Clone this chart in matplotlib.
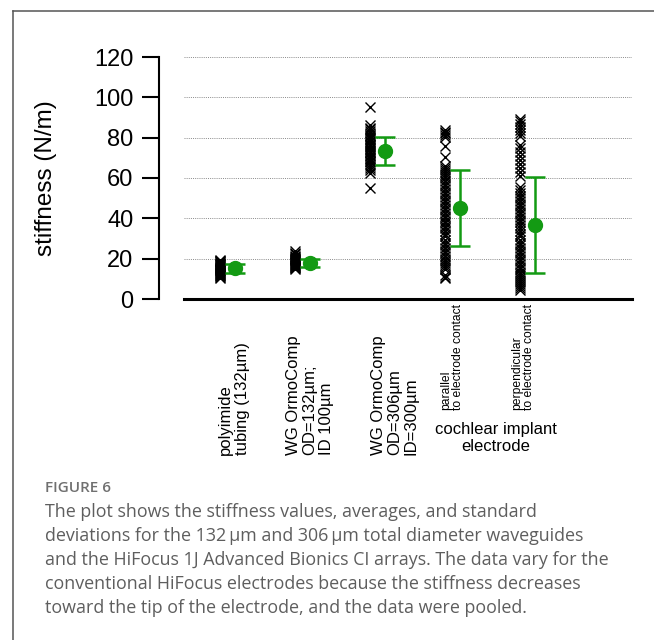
import numpy as np
import matplotlib
matplotlib.use("Agg")
import matplotlib.pyplot as plt
from matplotlib.lines import Line2D

# stiffness measurements (N/m) for each sample group
polyimide = [10.5, 11.0, 11.4, 11.8, 12.1, 12.5, 12.8, 13.1, 13.4, 13.7, 14.0, 14.2,
             14.5, 14.8, 15.0, 15.3, 15.6, 15.9, 16.1, 16.4, 16.7, 17.0, 17.3, 17.6,
             17.9, 18.2, 18.6, 19.0, 19.5]
wg_132 = [15.0, 15.4, 15.8, 16.1, 16.5, 16.8, 17.1, 17.4, 17.7, 18.0, 18.3, 18.6,
          18.9, 19.2, 19.6, 20.0, 20.4, 20.9, 21.5, 22.2, 23.0, 23.8]
wg_306 = [54.8, 62.3, 64.0, 65.2, 66.1, 67.0, 67.8, 68.6, 69.3, 70.1, 70.8, 71.5,
          72.2, 72.9, 73.6, 74.3, 75.0, 75.7, 76.4, 77.1, 77.8, 78.5, 79.2, 80.0,
          80.7, 81.5, 82.3, 83.2, 84.1, 85.0, 86.2, 95.2]
ci_parallel = [10.2, 11.0, 12.0, 15.0, 16.0, 17.0, 18.0, 19.0, 20.0, 21.5, 23.0, 24.0,
               25.5, 27.0, 28.0, 29.5, 31.0, 32.0, 33.5, 35.0, 36.0, 37.5, 38.5, 40.0,
               41.0, 42.5, 44.0, 45.0, 46.5, 48.0, 49.0, 50.5, 52.0, 53.0, 54.5, 56.0,
               57.0, 58.5, 60.0, 61.0, 62.0, 63.0, 64.0, 65.0, 66.0, 70.5, 76.0, 80.2,
               81.2, 82.2, 83.0, 84.0]
ci_perpendicular = [4.5, 5.5, 6.5, 7.5, 8.5, 9.5, 10.5, 11.5, 12.5, 13.5, 15.0, 16.0,
                    17.5, 19.0, 20.0, 21.5, 23.0, 24.0, 25.5, 27.0, 28.0, 29.5, 31.0,
                    32.0, 33.5, 35.0, 36.5, 38.0, 39.0, 40.5, 42.0, 43.0, 44.5, 46.0,
                    47.0, 48.5, 50.0, 51.0, 52.5, 54.0, 55.5, 61.0, 63.0, 65.0, 67.0,
                    69.0, 71.0, 73.0, 75.0, 76.5, 81.0, 82.5, 84.0, 85.5, 87.0, 88.5,
                    89.5]

groups = [polyimide, wg_132, wg_306, ci_parallel, ci_perpendicular]
means = [15.2, 17.8, 73.5, 45.1, 36.6]
sds = [2.2, 2.1, 7.0, 18.8, 23.7]

big_labels = ["polyimide\ntubing (132µm)",
              "WG OrmoComp\nOD=132µm;\nID 100µm",
              "WG OrmoComp\nOD=306µm\nID=300µm"]
small_labels = ["parallel\nto electrode contact",
                "perpendicular\nto electrode contact"]
yticks = [0, 20, 40, 60, 80, 100, 120]

caption_title = "FIGURE 6"
caption_lines = [
    "The plot shows the stiffness values, averages, and standard",
    "deviations for the 132\u2009μm and 306\u2009μm total diameter waveguides",
    "and the HiFocus 1J Advanced Bionics CI arrays. The data vary for the",
    "conventional HiFocus electrodes because the stiffness decreases",
    "toward the tip of the electrode, and the data were pooled.",
]

W, H = 654, 640
GREEN = "#139a13"
chart_font = ["Liberation Sans", "DejaVu Sans"]
caption_font = ["Open Sans", "DejaVu Sans"]


def fx(px):
    return px / W


def fy(py):
    return 1 - py / H


fig = plt.figure(figsize=(W / 100, H / 100), dpi=100)

# panel frame (left and top edges only)
fig.add_artist(Line2D([fx(12.5), fx(12.5)], [fy(11), 0], color="#555555", lw=1.1))
fig.add_artist(Line2D([fx(12.5), 1], [fy(11), fy(11)], color="#555555", lw=1.1))

ax = fig.add_axes([fx(183.5), fy(299), fx(632) - fx(183.5), fy(57) - fy(299)])
ax.set_xlim(0.51, 6.49)
ax.set_ylim(0, 120)

for s in ["top", "right"]:
    ax.spines[s].set_visible(False)
ax.spines["left"].set_position(("outward", 17.6))
ax.spines["left"].set_linewidth(1.5)
ax.spines["bottom"].set_linewidth(2.2)
ax.set_xticks([])
ax.set_yticks(yticks)
ax.tick_params(axis="y", length=12.5, width=1.5, pad=6, labelsize=17)
for lab in ax.get_yticklabels():
    lab.set_family(chart_font)

for y in yticks[1:]:
    ax.axhline(y, color="#8a8a8a", lw=0.7, ls=(0, (1, 1.2)), zorder=0)

for i, vals in enumerate(groups, start=1):
    ax.plot(np.full(len(vals), i), vals, "x", color="black", ms=6.5, mew=1.0,
            clip_on=False, zorder=2)
    ax.errorbar(i + 0.2, means[i - 1], yerr=sds[i - 1], fmt="o", color=GREEN,
                ms=10, elinewidth=1.8, capsize=7, capthick=1.8, zorder=3)

fig.text(fx(46), fy(178), "stiffness (N/m)", rotation=90, ha="center",
         va="center", fontsize=17.5, family=chart_font)

# category labels under the axis
big_x = [234, 310, 395]
for px, txt in zip(big_x, big_labels):
    fig.text(fx(px), fy(455), txt, rotation=90, ha="center", va="bottom",
             multialignment="left", fontsize=12, linespacing=1.1,
             family=chart_font)

small_x = [452, 523]
for px, txt in zip(small_x, small_labels):
    fig.text(fx(px), fy(410), txt, rotation=90, ha="center", va="bottom",
             multialignment="left", fontsize=8.7, linespacing=1.05,
             family=chart_font)

fig.text(fx(496), fy(438), "cochlear implant\nelectrode", ha="center",
         va="center", multialignment="center", fontsize=12, linespacing=1.1,
         family=chart_font)

# caption
fig.text(fx(45), fy(488), caption_title, ha="left", va="center", fontsize=11,
         fontweight="semibold", color="#707070", family=caption_font)
for k, line in enumerate(caption_lines):
    fig.text(fx(45), fy(512 + 24 * k), line, ha="left", va="center",
             fontsize=12.9, color="#5e5e5e", family=caption_font)

fig.savefig("out.png", dpi=100)
